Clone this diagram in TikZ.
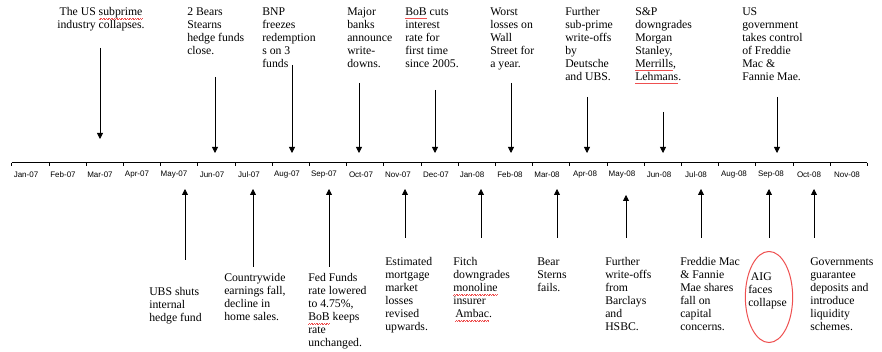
\documentclass[tikz,border=0pt]{standalone}
\usepackage{fontspec}
\setmainfont{Liberation Serif}
\newfontfamily\monthfont{Liberation Sans}
\usetikzlibrary{arrows.meta,shapes.geometric}
\definecolor{ringred}{RGB}{238,80,80}
\newcommand{\spellmark}[1]{\setbox0=\hbox{#1}\rlap{\color{ringred}\hbox to \wd0{\xleaders\hbox{\rule[-2.6pt]{0.6pt}{0.45pt}\rule[-2.1pt]{0.6pt}{0.45pt}}\hfil}}#1}

\begin{document}
\begin{tikzpicture}[x=0.75pt,y=-0.75pt,
    event/.style={align=left,anchor=north west,inner sep=0pt,
      font=\fontsize{8.8}{9.75}\selectfont},
    month/.style={inner sep=0pt,font=\monthfont\fontsize{6}{7}\selectfont},
    pointer/.style={line width=0.6pt,-{Triangle[length=4.5pt,width=4.5pt]}}]
    \useasboundingbox (0,0) rectangle (882,352);

    % time axis
    \coordinate (ax0) at (11.7,162.7);
    \coordinate (ax1) at (867.3,162.7);
    \draw[line width=0.6pt] (ax0) -- (ax1);
    \foreach \i in {0,...,23}
      \draw[line width=0.6pt] (11.7+37.2*\i,162.7) -- ++(0,3);

    \node[month] (m1) at (26,175) {Jan-07};
    \node[month] (m2) at (63,175) {Feb-07};
    \node[month] (m3) at (100,175) {Mar-07};
    \node[month] (m4) at (137,175) {Apr-07};
    \node[month] (m5) at (174,175) {May-07};
    \node[month] (m6) at (212,175) {Jun-07};
    \node[month] (m7) at (249,175) {Jul-07};
    \node[month] (m8) at (287,175) {Aug-07};
    \node[month] (m9) at (324,175) {Sep-07};
    \node[month] (m10) at (361,175) {Oct-07};
    \node[month] (m11) at (398,175) {Nov-07};
    \node[month] (m12) at (436,175) {Dec-07};
    \node[month] (m13) at (472,175) {Jan-08};
    \node[month] (m14) at (510,175) {Feb-08};
    \node[month] (m15) at (547,175) {Mar-08};
    \node[month] (m16) at (585,175) {Apr-08};
    \node[month] (m17) at (622,175) {May-08};
    \node[month] (m18) at (659,175) {Jun-08};
    \node[month] (m19) at (696,175) {Jul-08};
    \node[month] (m20) at (734,175) {Aug-08};
    \node[month] (m21) at (771,175) {Sep-08};
    \node[month] (m22) at (809,175) {Oct-08};
    \node[month] (m23) at (847,175) {Nov-08};

    % events above the axis
    \node[event,anchor=north,align=center] (t1) at (101,7.5) {The US \spellmark{subprime}\\industry collapses.};
    \node[event] (t2) at (187,7.5) {2 Bears\\Stearns\\hedge funds\\close.};
    \node[event] (t3) at (262,7.5) {BNP\\freezes\\redemption\\s on 3\\funds};
    \node[event] (t4) at (347,7.5) {Major\\banks\\announce\\write-\\downs.};
    \node[event] (t5) at (405,7.5) {\spellmark{BoB} cuts\\interest\\rate for\\first time\\since 2005.};
    \node[event] (t6) at (490,7.5) {Worst\\losses on\\Wall\\Street for\\a year.};
    \node[event] (t7) at (565,7.5) {Further\\sub-prime\\write-offs\\by\\Deutsche\\and UBS.};
    \node[event] (t8) at (635,7.5) {S\&P\\downgrades\\Morgan\\Stanley,\\\spellmark{Merrills},\\\spellmark{Lehmans}.};
    \node[event] (t9) at (742,7.5) {US\\government\\takes control\\of Freddie\\Mac \&\\Fannie Mae.};

    \coordinate (t1s) at (100,48);  \coordinate (t1e) at (100,139);
    \coordinate (t2s) at (215,77);  \coordinate (t2e) at (215,153);
    \coordinate (t3s) at (292,65);  \coordinate (t3e) at (292,153);
    \coordinate (t4s) at (359,83);  \coordinate (t4e) at (359,153);
    \coordinate (t5s) at (435,90);  \coordinate (t5e) at (435,153);
    \coordinate (t6s) at (511,83);  \coordinate (t6e) at (511,153);
    \coordinate (t7s) at (587,97);  \coordinate (t7e) at (587,153);
    \coordinate (t8s) at (663,112); \coordinate (t8e) at (663,153);
    \coordinate (t9s) at (777,97);  \coordinate (t9e) at (777,153);
    \draw[pointer] (t1s) -- (t1e);
    \draw[pointer] (t2s) -- (t2e);
    \draw[pointer] (t3s) -- (t3e);
    \draw[pointer] (t4s) -- (t4e);
    \draw[pointer] (t5s) -- (t5e);
    \draw[pointer] (t6s) -- (t6e);
    \draw[pointer] (t7s) -- (t7e);
    \draw[pointer] (t8s) -- (t8e);
    \draw[pointer] (t9s) -- (t9e);

    % events below the axis
    \node[event] (b1) at (149,287.5) {UBS shuts\\internal\\hedge fund};
    \node[event] (b2) at (224,273.5) {Countrywide\\earnings fall,\\decline in\\home sales.};
    \node[event] (b3) at (308,273.5) {Fed Funds\\rate lowered\\to 4.75\%,\\\spellmark{BoB} keeps\\rate\\unchanged.};
    \node[event] (b4) at (385,257.5) {Estimated\\mortgage\\market\\losses\\revised\\upwards.};
    \node[event] (b5) at (453,257.5) {Fitch\\downgrades\\\spellmark{monoline}\\insurer\\\hspace{1.5pt}\spellmark{Ambac}.};
    \node[event] (b6) at (537,257.5) {Bear\\Sterns\\fails.};
    \node[event] (b7) at (605,257.5) {Further\\write-offs\\from\\Barclays\\and\\HSBC.};
    \node[event] (b8) at (680,257.5) {Freddie Mac\\\& Fannie\\Mae shares\\fall on\\capital\\concerns.};
    \node[event] (b9) at (748,272.5) {\hspace{2pt}AIG\\faces\\collapse};
    \node[event] (b10) at (810,257.5) {Governments\\guarantee\\deposits and\\introduce\\liquidity\\schemes.};
    \node[draw=ringred,line width=0.75pt,ellipse,inner sep=0pt,
      minimum width=35.5pt,minimum height=68.3pt] (ring) at (769,297) {};

    \coordinate (b1s) at (185,260);  \coordinate (b1e) at (185,189);
    \coordinate (b2s) at (253,267);  \coordinate (b2e) at (253,189);
    \coordinate (b3s) at (329,267);  \coordinate (b3e) at (329,189);
    \coordinate (b4s) at (405,238);  \coordinate (b4e) at (405,189);
    \coordinate (b5s) at (481,238);  \coordinate (b5e) at (481,189);
    \coordinate (b6s) at (557,238);  \coordinate (b6e) at (557,189);
    \coordinate (b7s) at (626,238);  \coordinate (b7e) at (626,195);
    \coordinate (b8s) at (701,238);  \coordinate (b8e) at (701,189);
    \coordinate (b9s) at (769,238);  \coordinate (b9e) at (769,189);
    \coordinate (b10s) at (814,238); \coordinate (b10e) at (814,189);
    \draw[pointer] (b1s) -- (b1e);
    \draw[pointer] (b2s) -- (b2e);
    \draw[pointer] (b3s) -- (b3e);
    \draw[pointer] (b4s) -- (b4e);
    \draw[pointer] (b5s) -- (b5e);
    \draw[pointer] (b6s) -- (b6e);
    \draw[pointer] (b7s) -- (b7e);
    \draw[pointer] (b8s) -- (b8e);
    \draw[pointer] (b9s) -- (b9e);
    \draw[pointer] (b10s) -- (b10e);
\end{tikzpicture}
\end{document}
